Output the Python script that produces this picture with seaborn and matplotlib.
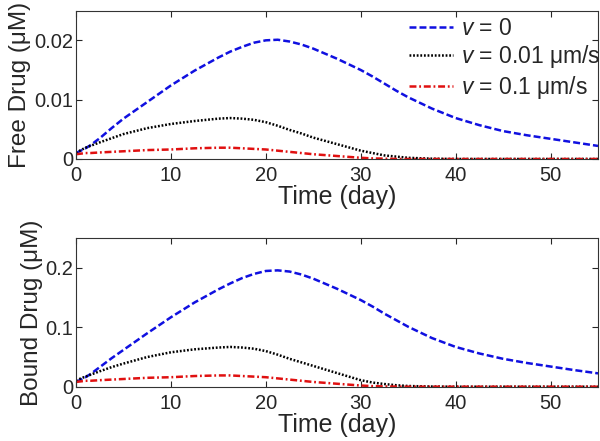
import pandas as pd
import matplotlib
matplotlib.use('Agg')
import matplotlib.pyplot as plt
import seaborn as sns

# time points (day)
time_day = [0, 0.5, 1, 1.5, 2.5, 3.75, 5, 7.5, 10, 12.5, 15, 16.25, 17.5,
            18.75, 20, 21.25, 22.5, 23.75, 25, 27.5, 30, 31.25, 32.5, 33.75,
            35, 37.5, 40, 42.5, 45, 47.5, 50, 52.5, 55]

# free drug (uM)
free_v0 = [0.0010, 0.0014, 0.0018, 0.0023, 0.0035, 0.0052, 0.0068, 0.0096,
           0.0124, 0.0149, 0.0171, 0.0181, 0.0189, 0.0196, 0.0200, 0.0201,
           0.0198, 0.0193, 0.0186, 0.0169, 0.0150, 0.0139, 0.0127, 0.0115,
           0.0104, 0.0085, 0.0069, 0.0057, 0.0047, 0.0040, 0.0034, 0.0028,
           0.0022]
free_v001 = [0.0010, 0.0015, 0.0019, 0.0022, 0.0028, 0.0035, 0.0042, 0.0052,
             0.0059, 0.0064, 0.0068, 0.0069, 0.0068, 0.0066, 0.0062, 0.0056,
             0.0049, 0.0043, 0.0036, 0.0025, 0.0014, 0.0010, 0.0006, 0.0004,
             0.0002, 0.00005, 0, 0, 0, 0, 0, 0, 0]
free_v01 = [0.0008, 0.0009, 0.0010, 0.0010, 0.0011, 0.0012, 0.0013, 0.0015,
            0.0016, 0.0018, 0.0019, 0.0019, 0.0018, 0.0017, 0.0016, 0.0014,
            0.0012, 0.0010, 0.0008, 0.0005, 0.0002, 0.0001, 0.00005, 0,
            0, 0, 0, 0, 0, 0, 0, 0, 0]

# bound drug (uM)
bound_v0 = [0.008, 0.012, 0.016, 0.021, 0.033, 0.048, 0.062, 0.090, 0.117,
            0.142, 0.164, 0.174, 0.183, 0.190, 0.195, 0.196, 0.194, 0.189,
            0.182, 0.165, 0.146, 0.135, 0.123, 0.112, 0.101, 0.082, 0.067,
            0.056, 0.047, 0.040, 0.034, 0.028, 0.0225]
bound_v001 = [0.010, 0.014, 0.017, 0.020, 0.026, 0.033, 0.039, 0.050, 0.058,
              0.063, 0.066, 0.067, 0.066, 0.064, 0.060, 0.054, 0.047, 0.041,
              0.035, 0.023, 0.011, 0.007, 0.0045, 0.0025, 0.0012, 0.0003,
              0, 0, 0, 0, 0, 0, 0]
bound_v01 = [0.008, 0.009, 0.010, 0.010, 0.011, 0.012, 0.013, 0.015, 0.016,
             0.018, 0.019, 0.019, 0.018, 0.017, 0.016, 0.014, 0.012, 0.010,
             0.008, 0.005, 0.002, 0.001, 0.0005, 0.0002, 0, 0, 0, 0, 0, 0,
             0, 0, 0]

labels = [r'$v$ = 0', r'$v$ = 0.01 μm/s', r'$v$ = 0.1 μm/s']

sns.set_style('ticks')
plt.rcParams['font.family'] = ['Liberation Sans', 'DejaVu Sans']
plt.rcParams['mathtext.fontset'] = 'custom'
plt.rcParams['mathtext.it'] = 'Liberation Sans:italic'
plt.rcParams['mathtext.rm'] = 'Liberation Sans'
plt.rcParams['lines.scale_dashes'] = False

colors = ['#1010e0', 'black', '#e01010']
styles = [(0, (5, 2.2)), (0, (1.3, 1.3)), (0, (5, 2, 1.3, 2))]

fig = plt.figure(figsize=(6, 4.41), dpi=100)
ax1 = fig.add_axes([0.1267, 0.6395, 0.87, 0.3363])
ax2 = fig.add_axes([0.1267, 0.1231, 0.87, 0.3365])

panels = [
    (ax1, [free_v0, free_v001, free_v01], 0.025, [0, 0.01, 0.02], ['0', '0.01', '0.02'], 'Free Drug (μM)'),
    (ax2, [bound_v0, bound_v001, bound_v01], 0.25, [0, 0.1, 0.2], ['0', '0.1', '0.2'], 'Bound Drug (μM)'),
]

for ax, series, ymax, yt, ytl, ylab in panels:
    for vals, c, ls, lab in zip(series, colors, styles, labels):
        df = pd.DataFrame({'t': time_day, 'c': vals})
        sns.lineplot(data=df, x='t', y='c', ax=ax, color=c, linestyle=ls,
                     linewidth=1.8, label=lab if ax is ax1 else None)
    ax.set_xlim(0, 55)
    ax.set_ylim(0, ymax)
    ax.set_xticks([0, 10, 20, 30, 40, 50])
    ax.set_yticks(yt)
    ax.set_yticklabels(ytl)
    ax.tick_params(direction='in', top=True, right=True, length=4,
                   labelsize=14.5)
    ax.tick_params(axis='x', pad=5)
    ax.tick_params(axis='y', pad=2)
    for s in ax.spines.values():
        s.set_linewidth(0.8)
        s.set_color('#333333')
    ax.set_xlabel('Time (day)', fontsize=18, labelpad=0)
    ax.set_ylabel(ylab, fontsize=17.5, labelpad=2)

leg = ax1.legend(loc='upper right', bbox_to_anchor=(1.022, 1.02),
                 frameon=False, fontsize=16.5, handlelength=1.9,
                 handletextpad=0.35, labelspacing=0.15, borderaxespad=0)

fig.savefig('out.png', dpi=100)
